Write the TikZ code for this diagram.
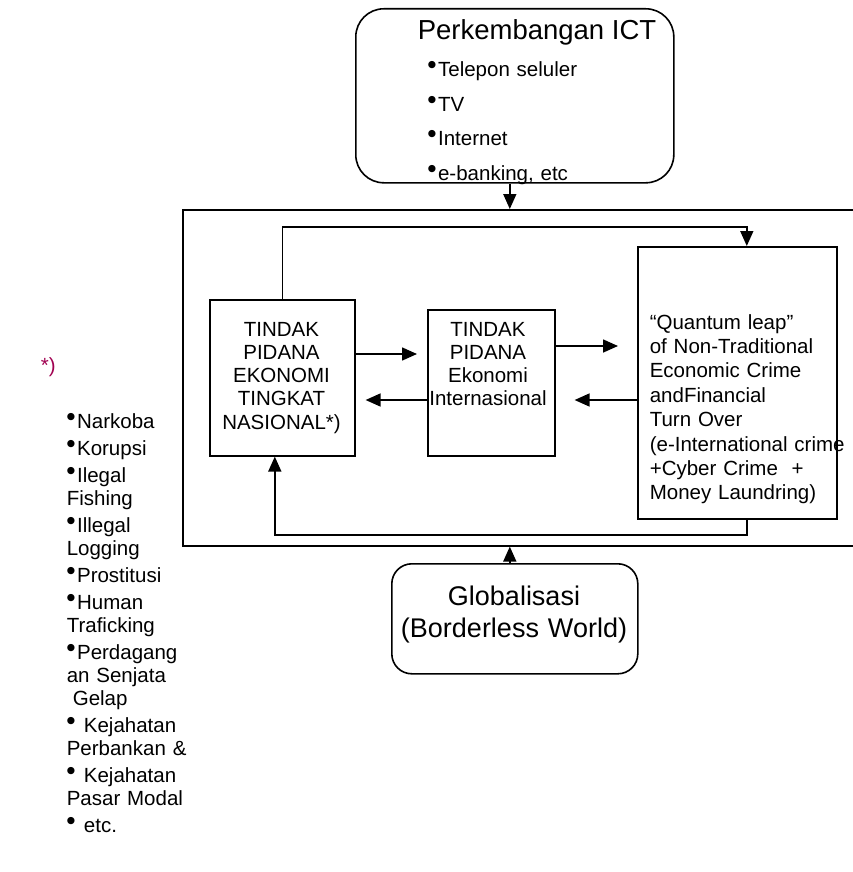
\documentclass[tikz,border=0pt]{standalone}
\usepackage{fontspec}
\setmainfont{Liberation Sans}
\newfontfamily\dejavu{DejaVu Sans}
\usetikzlibrary{arrows.meta}
\definecolor{noteRed}{RGB}{160,0,80}
\newcommand{\bul}{\raisebox{9pt}{\dejavu\fontsize{9.5}{9.5}\selectfont ●}\kern2pt}
\begin{document}
\begin{tikzpicture}[x=1pt,y=-1pt,line width=1.6pt,
  box/.style={draw,rectangle,inner sep=0pt},
  rbox/.style={draw,rectangle,inner sep=0pt},
  txt/.style={inner sep=0pt,font=\fontsize{20.5}{23.5}\selectfont},
  arr/.style={-{Triangle[length=15pt,width=13pt]}}]
\useasboundingbox (0,0) rectangle (852,872);
% outer frame
\node[box,minimum width=700pt,minimum height=336pt,anchor=north west] (frame) at (182,209) {};
% ICT box
\node[rbox,rounded corners=28pt,minimum width=318pt,minimum height=174pt,anchor=north west] (ict) at (355,8) {};
\node[txt,anchor=base west,font=\fontsize{27.5}{30}\selectfont] (icttitle) at (417,40) {Perkembangan ICT};
\node[txt,anchor=base west,align=left,text width=220pt,font=\fontsize{20.5}{34.5}\selectfont] (ictlist) at (427,77) {\bul Telepon seluler\\\bul TV\\\bul Internet\\\bul e-banking, etc};
% A
\node[box,minimum width=145pt,minimum height=156pt,anchor=north west] (A) at (209,299) {};
\node[txt,anchor=base,align=center,text width=150pt,font=\fontsize{20.5}{23.3}\selectfont] (Atext) at (281.5,336) {TINDAK\\PIDANA\\EKONOMI\\TINGKAT\\NASIONAL*)};
% B
\node[box,minimum width=127pt,minimum height=146pt,anchor=north west] (B) at (427,309) {};
\node[txt,anchor=base,align=center,text width=140pt,font=\fontsize{20.5}{23}\selectfont] (Btext) at (488,336) {TINDAK\\PIDANA\\Ekonomi\\Internasional};
% C
\node[box,minimum width=199pt,minimum height=272pt,anchor=north west] (C) at (637,246) {};
\node[txt,anchor=base west,align=left,text width=215pt,font=\fontsize{20.5}{24.4}\selectfont] (Ctext) at (649,329) {“Quantum leap”\\of Non-Traditional\\Economic Crime\\andFinancial\\Turn Over\\(e-International crime\\+Cyber Crime\ \ +\\Money Laundring)};
% Globalisasi
\node[rbox,rounded corners=20pt,minimum width=246pt,minimum height=110pt,anchor=north west] (glob) at (391,563) {};
\node[txt,anchor=base,align=center,text width=260pt,font=\fontsize{27}{32}\selectfont] (globtext) at (514,605) {Globalisasi\\(Borderless World)};
% note and list
\node[txt,anchor=base west,text=noteRed] (star) at (40,372) {*)};
\node[txt,anchor=base west,align=left,text width=160pt,font=\fontsize{20.5}{23}\selectfont] (list) at (66,428) {\bul Narkoba\\[4pt]\bul Korupsi\\[4pt]\bul Ilegal\\Fishing\\[4pt]\bul Illegal\\Logging\\[4pt]\bul Prostitusi\\[4pt]\bul Human\\Traficking\\[4pt]\bul Perdagang\\an Senjata\\\hspace*{6pt}Gelap\\[4pt]\bul\ Kejahatan\\Perbankan \&\\[4pt]\bul\ Kejahatan\\Pasar Modal\\[4pt]\bul\ etc.};
% connectors
\draw[arr] ([xshift=-5pt]ict.south) -- ([xshift=-5pt]ict.south |- frame.north);
\draw[arr] ([xshift=-5pt]glob.north) -- ([xshift=-5pt]glob.north |- frame.south);
\draw[arr,shorten >=10pt] (A.east |- 0,354) -- (B.west |- 0,354);
\draw[arr,shorten >=10pt] (B.west |- 0,400) -- (A.east |- 0,400);
\draw[arr,shorten >=19pt] (B.east |- 0,346) -- (C.west |- 0,346);
\draw[arr,shorten >=19pt] (C.west |- 0,400) -- (B.east |- 0,400);
\draw[arr] (A.north) -- (A.north |- 0,227) -| ([xshift=9.5pt]C.north);
\draw[arr] ([xshift=9.5pt]C.south) -- ([xshift=9.5pt]C.south |- 0,535) -| ([xshift=-7.5pt]A.south);
\end{tikzpicture}
\end{document}
